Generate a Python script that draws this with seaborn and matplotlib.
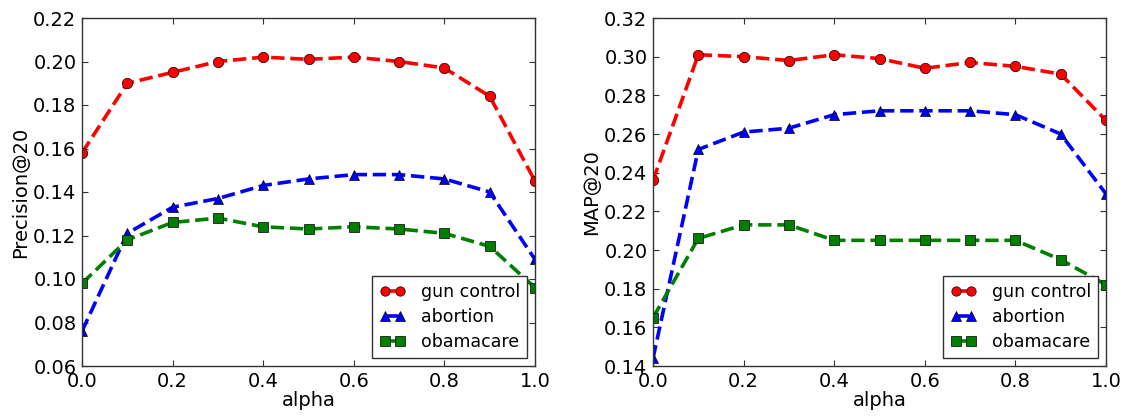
import matplotlib
matplotlib.use("Agg")
import matplotlib.pyplot as plt
import seaborn as sns
import pandas as pd

alpha = [0.0, 0.1, 0.2, 0.3, 0.4, 0.5, 0.6, 0.7, 0.8, 0.9, 1.0]
series_names = ["gun control", "abortion", "obamacare"]

prec_gun = [0.158, 0.190, 0.195, 0.200, 0.202, 0.201, 0.202, 0.200, 0.197, 0.184, 0.145]
prec_abortion = [0.076, 0.121, 0.133, 0.137, 0.143, 0.146, 0.148, 0.148, 0.146, 0.140, 0.109]
prec_obama = [0.098, 0.118, 0.126, 0.128, 0.124, 0.123, 0.124, 0.123, 0.121, 0.115, 0.096]

map_gun = [0.236, 0.301, 0.300, 0.298, 0.301, 0.299, 0.294, 0.297, 0.295, 0.291, 0.267]
map_abortion = [0.144, 0.252, 0.261, 0.263, 0.270, 0.272, 0.272, 0.272, 0.270, 0.260, 0.229]
map_obama = [0.165, 0.206, 0.213, 0.213, 0.205, 0.205, 0.205, 0.205, 0.205, 0.195, 0.182]

colors = ["#ff0000", "#0000ff", "#007f00"]
markers = ["o", "^", "s"]

sns.set_style("ticks")
plt.rcParams.update({
    "font.family": ["DejaVu Sans"],
    "text.color": "black",
    "axes.labelcolor": "black",
    "xtick.color": "black",
    "ytick.color": "black",
    "xtick.direction": "in",
    "ytick.direction": "in",
    "xtick.top": True,
    "ytick.right": True,
    "xtick.major.size": 4,
    "ytick.major.size": 4,
    "axes.linewidth": 1.0,
    "axes.edgecolor": "#333333",
})

fig = plt.figure(figsize=(11.28, 4.16), dpi=100)
ax1 = fig.add_axes([82/1128, 1-366/416, (535-82)/1128, (366-18)/416])
ax2 = fig.add_axes([653/1128, 1-366/416, (1106-653)/1128, (366-18)/416])

def draw(ax, vals, ylabel, ylim, yticks):
    for name, v, c, m in zip(series_names, vals, colors, markers):
        df = pd.DataFrame({"alpha": alpha, "val": v})
        sns.lineplot(data=df, x="alpha", y="val", ax=ax, color=c, marker=m,
                     linestyle="--", linewidth=2.6, markersize=7.5,
                     markeredgecolor="black", markeredgewidth=0.5, label=name)
    ax.set_xlim(0, 1)
    ax.set_ylim(*ylim)
    ax.set_yticks(yticks)
    ax.set_yticklabels([f"{t:.2f}" for t in yticks])
    ax.set_xticks([0, 0.2, 0.4, 0.6, 0.8, 1.0])
    ax.set_xticklabels(["0.0", "0.2", "0.4", "0.6", "0.8", "1.0"])
    ax.tick_params(labelsize=14, pad=4, color="#333333")
    ax.set_xlabel("alpha", fontsize=14, labelpad=0)
    ax.set_ylabel(ylabel, fontsize=14, labelpad=2)
    leg = ax.legend(loc="lower right", fontsize=12.5, numpoints=2,
                    fancybox=False, framealpha=1, edgecolor="#333333",
                    borderaxespad=0.45, handlelength=1.5, handletextpad=0.9,
                    markerscale=0.9, labelspacing=0.4)
    leg.get_frame().set_linewidth(1.0)

draw(ax1, [prec_gun, prec_abortion, prec_obama], "Precision@20", (0.06, 0.22),
     [0.06, 0.08, 0.10, 0.12, 0.14, 0.16, 0.18, 0.20, 0.22])
draw(ax2, [map_gun, map_abortion, map_obama], "MAP@20", (0.14, 0.32),
     [0.14, 0.16, 0.18, 0.20, 0.22, 0.24, 0.26, 0.28, 0.30, 0.32])

fig.savefig("out.png", dpi=100)
